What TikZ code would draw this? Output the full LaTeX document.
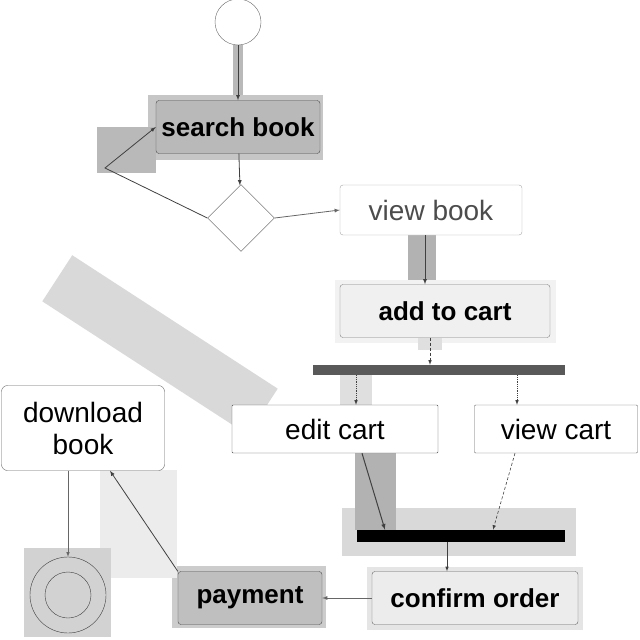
\documentclass[tikz,border=0pt]{standalone}
\usepackage{fontspec}
\setmainfont{Liberation Sans}
\usetikzlibrary{shapes,arrows}

\begin{document}
\begin{tikzpicture}[x=1pt,y=-1pt]
\tikzstyle{act} = [draw=black!60,rounded corners=3pt,fill=white,inner sep=0pt,font=\fontsize{28}{32}\selectfont];
\tikzstyle{bold} = [font=\fontsize{26}{30}\selectfont\bfseries];
\tikzstyle{bar} = [inner sep=0pt,minimum height=10pt];
\tikzstyle{flow} = [draw=black!75,line width=0.8pt,-latex];
\useasboundingbox (0,0) rectangle (640,640);

% grey selection patches
\fill[gray!55] (233,45) rectangle (243,100);
\fill[gray!45] (148,95) rectangle (323,160);
\fill[gray!55] (97,127) rectangle (156,173);
\fill[gray!60] (408,235) rectangle (436,290);
\fill[gray!10] (335,280) rectangle (556,343);
\fill[gray!25] (418,338) rectangle (442,350);
\fill[gray!25] (340,375) rectangle (372,405);
\fill[gray!30] (342,508) rectangle (576,556);
\fill[gray!60] (355,453) rectangle (396,530);
\fill[gray!20] (367,567) rectangle (583,630);
\fill[gray!40] (172,566) rectangle (326,628);
\fill[gray!15] (100,470) rectangle (177,578);
\fill[gray!35] (24,548) rectangle (111,637);

% watermark band
\node[fill=gray!30,rotate=-33,minimum width=245pt,minimum height=55pt] (wm) at (160,345) {};

\node[circle,draw=black!60,fill=white,minimum size=46pt,inner sep=0pt] (start) at (238,22) {};
\node[act,bold,fill=gray!55,draw=black!70,minimum width=164pt,minimum height=53pt] (search) at (238,127) {search book};
\node[diamond,draw=black!70,fill=white,minimum width=67pt,minimum height=67pt,inner sep=0pt] (dec) at (241,218) {};
\coordinate (v1) at (105,168);
\node[act,draw=black!35,text=black!70,minimum width=182pt,minimum height=50pt] (viewb) at (431,210) {view book};
\node[act,bold,fill=gray!12,draw=black!50,minimum width=210pt,minimum height=53pt] (addc) at (445,311) {add to cart};
\node[bar,fill=black!65,minimum width=252pt] (fork) at (439,370) {};
\node[act,rounded corners=1pt,draw=black!70,minimum width=206pt,minimum height=48pt] (editc) at (335,429) {edit cart};
\node[act,rounded corners=1pt,draw=black!60,minimum width=163pt,minimum height=48pt] (viewc) at (556,429) {view cart};
\node[bar,fill=black,minimum width=208pt,minimum height=12pt] (join) at (461,536) {};
\node[act,bold,fill=gray!15,draw=black!60,minimum width=206pt,minimum height=53pt] (confirm) at (475,598) {confirm order};
\node[act,bold,fill=gray!50,draw=black!70,minimum width=144pt,minimum height=53pt] (pay) at (250,598) {payment};
\node[act,rounded corners=6pt,draw=black!60,minimum width=163pt,minimum height=85pt,align=center] (down) at (83,428) {download\\book};
\node[circle,draw=black!75,minimum size=76pt,inner sep=0pt] (final) at (68,595) {};
\node[circle,draw=black!75,minimum size=46pt,inner sep=0pt] (finin) at (final) {};

\draw[flow] (start) -- (search);
\draw[flow] (search) -- (dec);
\draw[flow] (dec.west) -- (v1) -- (search.west);
\draw[flow,draw=black!60] (dec.east) -- (viewb.west);
\draw[flow] ([xshift=-6pt]viewb.south) -- ([xshift=-6pt]viewb.south |- addc.north);
\draw[flow,densely dashed,line width=0.6pt] ([xshift=-15pt]addc.south) -- ([xshift=-15pt]addc.south |- fork.north);
\draw[flow,densely dotted,line width=0.6pt] ([xshift=21pt]editc.north |- fork.south) -- ([xshift=21pt]editc.north);
\draw[flow,densely dotted,line width=0.6pt] ([xshift=-39pt]viewc.north |- fork.south) -- ([xshift=-39pt]viewc.north);
\draw[flow,line width=1pt] ([xshift=27pt]editc.south) -- ([xshift=-76pt]join.north);
\draw[flow,densely dashed,line width=0.6pt] ([xshift=-41pt]viewc.south) -- ([xshift=32pt]join.north);
\draw[flow,line width=0.6pt] ([xshift=-14pt]join.south) -- ([xshift=-14pt]join.south |- confirm.north);
\draw[flow,draw=black!60] (confirm.west) -- (pay.east);
\draw[flow] (pay.north west) -- ([xshift=27pt]down.south);
\draw[flow,draw=black!60,line width=0.6pt] ([xshift=-15pt]down.south) -- (final.north);

\end{tikzpicture}
\end{document}
